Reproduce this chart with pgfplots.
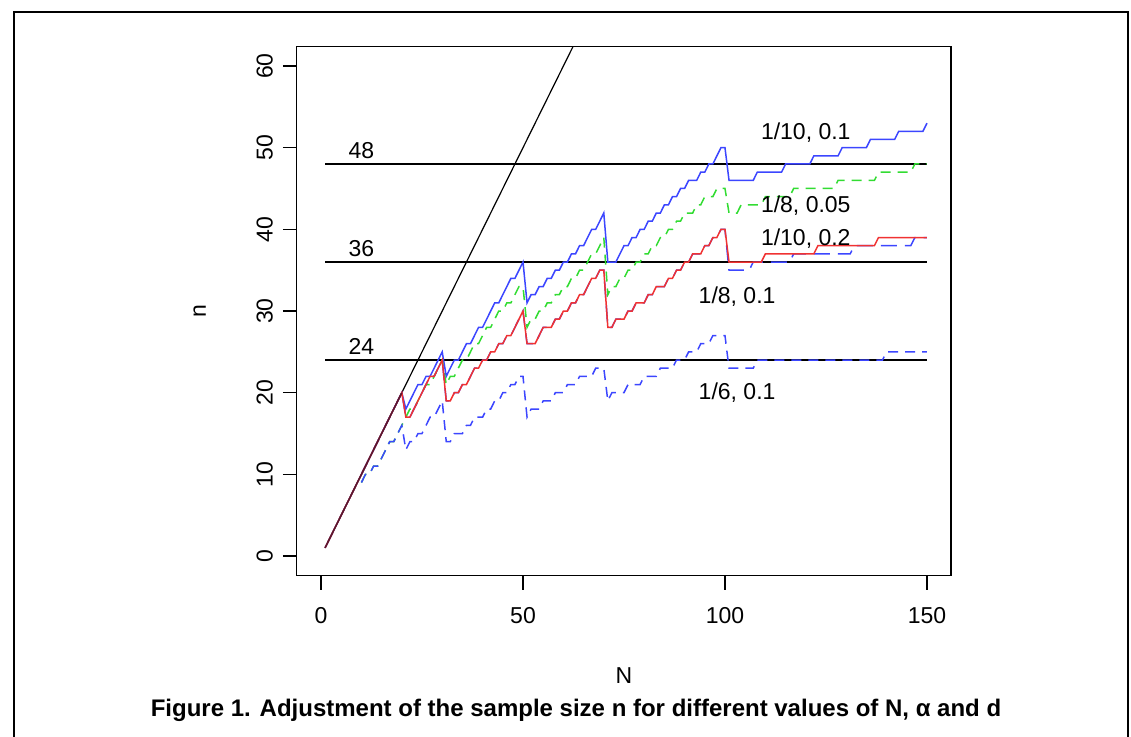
\documentclass[border=0pt]{standalone}
\usepackage{fontspec}
\setmainfont{Liberation Sans}
\usepackage{pgfplots}
\pgfplotsset{compat=1.18}
\definecolor{rblue}{RGB}{60,70,255}
\definecolor{rred}{RGB}{240,50,50}
\definecolor{rgreen}{RGB}{50,220,50}
\definecolor{maroon}{RGB}{90,25,45}
\begin{document}
\fontsize{11.5pt}{14pt}\selectfont
\begin{tikzpicture}
\path[use as bounding box] (-148.4pt,-80.2pt) rectangle (417.1pt,287.8pt);
\draw[line width=0.75pt] (-141.4pt,-81pt) -- (-141.4pt,281.8pt) -- (415.6pt,281.8pt) -- (415.6pt,-81pt);
\begin{axis}[
  scale only axis, width=327.2pt, height=264.6pt,
  at={(0pt,0pt)}, anchor=south west,
  xmin=-6, xmax=156, ymin=-2.4, ymax=62.4,
  axis line style={line width=0.7pt},
  xtick={0,50,100,150}, ytick={0,10,20,30,40,50,60},
  tick align=outside, major tick length=7pt,
  xtick pos=bottom, ytick pos=left,
  tick style={line width=0.7pt, black},
  /pgf/number format/assume math mode=true,
  ticklabel style={font=\fontsize{11.5pt}{14pt}\selectfont},
  xticklabel style={anchor=center, yshift=-13pt},
  yticklabel style={xshift=-9pt, anchor=center, rotate=90},
  xlabel={N}, ylabel={n},
  xlabel style={at={(axis description cs:0.5,0)}, anchor=center, yshift=-50pt, font=\fontsize{11.5pt}{14pt}\selectfont},
  ylabel style={at={(axis description cs:0,0.5)}, anchor=center, yshift=48.5pt, font=\fontsize{11.5pt}{14pt}\selectfont},
  clip=true,
]
% reference lines
\addplot[black, line width=0.6pt] coordinates {(1,1) (66,66)};
\addplot[black, line width=0.6pt] coordinates {(1,24) (150,24)};
\addplot[black, line width=0.6pt] coordinates {(1,36) (150,36)};
\addplot[black, line width=0.6pt] coordinates {(1,48) (150,48)};
% 1/10, 0.1
\addplot[rblue, line width=0.75pt] coordinates {(1,1)(20,20)(21,18)(22,19)(23,20)(24,21)(25,21)(26,22)(27,22)(28,23)(29,24)(30,25)(31,22)(32,23)(33,24)(34,24)(35,25)(36,26)(37,26)(38,27)(39,28)(40,28)(41,29)(42,30)(43,31)(44,31)(45,32)(46,33)(47,34)(48,34)(49,35)(50,36)(51,31)(52,32)(53,32)(54,33)(55,33)(56,34)(57,34)(58,35)(59,35)(60,36)(61,36)(62,37)(63,37)(64,38)(65,38)(66,39)(67,40)(68,40)(69,41)(70,42)(71,36)(72,36)(73,36)(74,37)(75,38)(76,38)(77,39)(78,39)(79,40)(80,40)(81,41)(82,41)(83,42)(84,42)(85,43)(86,43)(87,44)(88,44)(89,45)(90,45)(91,46)(92,46)(93,46)(94,47)(95,47)(96,48)(97,48)(98,49)(99,50)(100,50)(101,46)(107,46)(108,47)(114,47)(115,48)(121,48)(122,49)(128,49)(129,50)(135,50)(136,51)(142,51)(143,52)(149,52)(150,53)};
% 1/8, 0.05
\addplot[rgreen, line width=0.75pt, dash pattern=on 5pt off 3.5pt] coordinates {(10,9)(11,10)(12,10)(13,11)(14,11)(15,12)(16,13)(17,14)(18,14)(19,15)(20,16)(21,17)(22,18)(23,18)(24,19)(25,20)(26,21)(27,21)(28,22)(29,23)(30,24)(31,21)(32,22)(33,22)(34,23)(35,24)(36,24)(37,25)(38,26)(39,26)(40,27)(41,28)(42,28)(43,29)(44,30)(45,30)(46,31)(47,31)(48,32)(49,33)(50,33)(51,28)(52,29)(53,29)(54,30)(55,30)(56,31)(57,31)(58,32)(59,32)(60,33)(61,33)(62,34)(63,34)(64,35)(65,35)(66,36)(67,37)(68,37)(69,38)(70,39)(71,32)(72,33)(73,33)(74,34)(75,34)(76,35)(77,35)(78,36)(79,36)(80,37)(81,37)(82,38)(83,38)(84,39)(85,39)(86,40)(87,40)(88,41)(89,41)(90,42)(91,42)(92,42)(93,43)(94,43)(95,44)(96,44)(97,44)(98,45)(99,45)(100,45)(101,42)(103,42)(104,43)(109,43)(110,44)(116,44)(117,45)(127,45)(128,46)(137,46)(138,47)(146,47)(147,48)(150,48)};
% 1/8, 0.1
\addplot[rblue, line width=0.75pt, dash pattern=on 8pt off 4pt] coordinates {(10,10)(20,20)(21,17)(22,17)(23,18)(24,19)(25,20)(26,21)(27,22)(28,22)(29,23)(30,24)(31,19)(32,19)(33,20)(34,20)(35,21)(36,21)(37,22)(38,23)(39,23)(40,24)(41,24)(42,25)(43,25)(44,26)(45,26)(46,27)(47,27)(48,28)(49,29)(50,30)(51,26)(52,26)(53,26)(54,27)(55,28)(56,28)(57,28)(58,29)(59,29)(60,30)(61,30)(62,31)(63,31)(64,32)(65,32)(66,33)(67,34)(68,34)(69,35)(70,35)(71,28)(72,28)(73,29)(74,29)(75,29)(76,30)(77,30)(78,31)(79,31)(80,31)(81,32)(82,32)(83,33)(84,33)(85,33)(86,34)(87,34)(88,35)(89,35)(90,36)(91,36)(92,37)(93,37)(94,37)(95,38)(96,38)(97,39)(98,39)(99,40)(100,40)(101,35)(106,35)(107,36)(116,36)(117,37)(131,37)(132,38)(146,38)(147,39)(150,39)};
% 1/10, 0.2
\addplot[rred, line width=0.75pt] coordinates {(1,1)(20,20)(21,17)(22,17)(23,18)(24,19)(25,20)(26,21)(27,22)(28,22)(29,23)(30,24)(31,19)(32,19)(33,20)(34,20)(35,21)(36,21)(37,22)(38,23)(39,23)(40,24)(41,24)(42,25)(43,25)(44,26)(45,26)(46,27)(47,27)(48,28)(49,29)(50,30)(51,26)(52,26)(53,26)(54,27)(55,28)(56,28)(57,28)(58,29)(59,29)(60,30)(61,30)(62,31)(63,31)(64,32)(65,32)(66,33)(67,34)(68,34)(69,35)(70,35)(71,28)(72,28)(73,29)(74,29)(75,29)(76,30)(77,30)(78,31)(79,31)(80,31)(81,32)(82,32)(83,33)(84,33)(85,33)(86,34)(87,34)(88,35)(89,35)(90,36)(91,36)(92,37)(93,37)(94,37)(95,38)(96,38)(97,39)(98,39)(99,40)(100,40)(101,36)(109,36)(110,37)(122,37)(123,38)(137,38)(138,39)(150,39)};
% 1/6, 0.1
\addplot[rblue, line width=0.75pt, dash pattern=on 5pt off 3.5pt] coordinates {(10,9)(11,10)(12,10)(13,11)(14,11)(15,12)(16,13)(17,14)(18,14)(19,15)(20,16)(21,13)(22,14)(23,14)(24,15)(25,15)(26,16)(27,17)(28,17)(29,18)(30,19)(31,14)(32,14)(33,15)(34,15)(35,15)(36,16)(37,16)(38,17)(39,17)(40,17)(41,18)(42,18)(43,19)(44,19)(45,20)(46,20)(47,21)(48,21)(49,22)(50,22)(51,17)(52,18)(53,18)(54,18)(55,19)(56,19)(57,19)(58,20)(59,20)(60,20)(61,21)(62,21)(63,21)(64,22)(65,22)(66,22)(67,22)(68,23)(69,23)(70,23)(71,19)(72,20)(75,20)(76,21)(79,21)(80,22)(83,22)(84,23)(87,23)(88,24)(90,24)(91,25)(93,25)(94,26)(96,26)(97,27)(100,27)(101,23)(107,23)(108,24)(139,24)(140,25)(150,25)};
% overlap of n = N with the solid curves (N <= 20)
\addplot[maroon, line width=0.75pt] coordinates {(1,1) (20,20)};
% annotations
\node at (axis cs:10,49.6) {48};
\node at (axis cs:10,37.6) {36};
\node at (axis cs:10,25.6) {24};
\node at (axis cs:120,51.8) {1/10, 0.1};
\node at (axis cs:120,42.9) {1/8, 0.05};
\node at (axis cs:120,38.9) {1/10, 0.2};
\node at (axis cs:103,31.8) {1/8, 0.1};
\node at (axis cs:103,20) {1/6, 0.1};
\end{axis}
\node[font=\bfseries\fontsize{12pt}{14pt}\selectfont] at (139.6pt,-67.6pt) {Figure 1. Adjustment of the sample size n for different values of N, α and d};
\end{tikzpicture}
\end{document}
